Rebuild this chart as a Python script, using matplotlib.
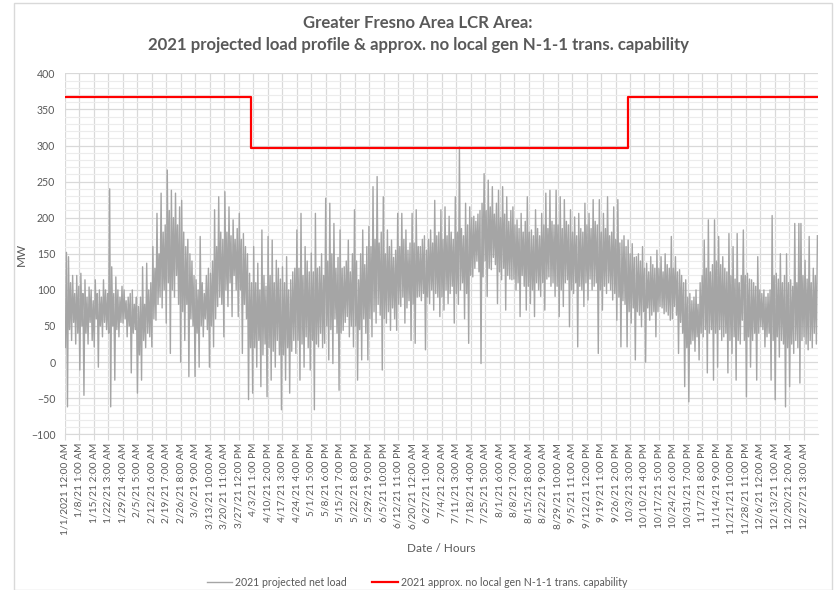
import numpy as np
import matplotlib
matplotlib.use("Agg")
import matplotlib.pyplot as plt
from matplotlib.patches import Rectangle

# ---------------- data ----------------
tick_labels = [
    "1/1/2021 12:00 AM", "1/8/21 1:00 AM", "1/15/21 2:00 AM", "1/22/21 3:00 AM",
    "1/29/21 4:00 AM", "2/5/21 5:00 AM", "2/12/21 6:00 AM", "2/19/21 7:00 AM",
    "2/26/21 8:00 AM", "3/6/21 9:00 AM", "3/13/21 10:00 AM", "3/20/21 11:00 AM",
    "3/27/21 12:00 PM", "4/3/21 1:00 PM", "4/10/21 2:00 PM", "4/17/21 3:00 PM",
    "4/24/21 4:00 PM", "5/1/21 5:00 PM", "5/8/21 6:00 PM", "5/15/21 7:00 PM",
    "5/22/21 8:00 PM", "5/29/21 9:00 PM", "6/5/21 10:00 PM", "6/12/21 11:00 PM",
    "6/20/21 12:00 AM", "6/27/21 1:00 AM", "7/4/21 2:00 AM", "7/11/21 3:00 AM",
    "7/18/21 4:00 AM", "7/25/21 5:00 AM", "8/1/21 6:00 AM", "8/8/21 7:00 AM",
    "8/15/21 8:00 AM", "8/22/21 9:00 AM", "8/29/21 10:00 AM", "9/5/21 11:00 AM",
    "9/12/21 12:00 PM", "9/19/21 1:00 PM", "9/26/21 2:00 PM", "10/3/21 3:00 PM",
    "10/10/21 4:00 PM", "10/17/21 5:00 PM", "10/24/21 6:00 PM", "10/31/21 7:00 PM",
    "11/7/21 8:00 PM", "11/14/21 9:00 PM", "11/21/21 10:00 PM", "11/28/21 11:00 PM",
    "12/6/21 12:00 AM", "12/13/21 1:00 AM", "12/20/21 2:00 AM", "12/27/21 3:00 AM",
]
hours_per_label = 169
total_hours = 8784

# projected net load: daily low (MW), one row per label interval (7 days)
daily_low = [
    20, -62, 45, 30, 55, 25, 40,
    -11, 50, -46, 40, 25, 55, 30,
    21, 60, -7, 50, 35, 55, 45,
    40, -62, 50, -25, 45, 35, 55,
    54, 60, 35, 50, -15, 40, 45,
    -43, 10, -25, 30, 20, 40, 35,
    21, 60, 58, 80, 90, 75, 100,
    54, 110, 12, 100, 90, 120, 80,
    0, 70, 30, 80, -20, 60, 50,
    -20, 40, -7, 50, 35, 60, 45,
    -7, 50, 21, 60, 77, 90, 80,
    35, 100, 77, 110, 63, 120, 100,
    63, 100, 12, 80, 60, -52, 20,
    -43, 20, -7, 30, -34, 10, 25,
    -48, 20, -25, 15, -7, 30, 10,
    -66, 10, -25, 20, -43, 15, 30,
    12, 30, -25, 25, -7, 35, 20,
    -11, 30, -66, 25, 21, 40, 20,
    26, 50, 3, 45, -2, 60, 40,
    -39, 40, 44, 55, 63, 35, 50,
    21, 50, -25, 45, 3, 60, 40,
    3, 60, 35, 70, 54, 80, 65,
    -11, 60, 54, 70, 44, 75, 60,
    44, 80, 77, 90, 54, 75, 85,
    30, 80, 26, 90, 91, 85, 95,
    17, 90, 81, 100, 72, 95, 90,
    63, 90, 72, 100, 81, 95, 105,
    54, 95, 80, 100, 110, 60, 95,
    26, 120, 118, 130, 140, 125, -2,
    118, 140, 91, 130, 128, 145, 135,
    81, 125, 114, 130, 72, 120, 115,
    114, 115, 100, 110, 63, 120, 105,
    72, 105, 81, 100, 63, 110, 100,
    91, 110, 72, 115, 118, 105, 110,
    91, 105, 63, 100, 77, 110, 114,
    49, 100, 95, 110, 21, 105, 100,
    77, 110, 86, 115, 100, 105, 110,
    12, 100, 72, 105, 95, 110, 100,
    86, 95, 58, 90, 21, 85, 80,
    21, 70, 54, 75, 3, 70, 65,
    49, 70, 0, 75, 58, 65, 70,
    35, 70, 77, 75, 67, 70, 65,
    58, 60, 77, 65, 12, 55, 40,
    -34, 20, -55, 25, 30, 15, 35,
    3, 40, 35, 45, -15, 40, 45,
    -25, 40, -7, 45, 30, 35, 40,
    -15, 30, 12, 35, -25, 30, 25,
    58, 30, -48, 35, -7, 30, 40,
    -25, 40, 49, 45, 21, 35, 40,
    -25, 30, -52, 35, 7, 30, 25,
    -62, 20, -34, 25, 12, 30, 20,
    -29, 30, 35, 25, 17, 30, 20,
    40, 25,
]
# projected net load: daily high (MW)
daily_high = [
    152, 146, 110, 120, 95, 120, 105,
    123, 95, 114, 90, 104, 100, 85,
    114, 95, 100, 90, 114, 100, 95,
    240, 132, 95, 118, 100, 90, 105,
    100, 85, 90, 95, 100, 80, 90,
    77, 90, 132, 80, 137, 100, 110,
    160, 130, 206, 150, 234, 180, 190,
    266, 210, 238, 200, 234, 190, 215,
    224, 180, 160, 170, 150, 140, 120,
    114, 100, 174, 110, 95, 120, 130,
    123, 140, 211, 160, 229, 180, 170,
    236, 180, 215, 175, 197, 170, 185,
    206, 170, 178, 160, 150, 123, 110,
    160, 110, 137, 100, 183, 120, 105,
    174, 120, 169, 110, 141, 130, 115,
    132, 110, 146, 100, 114, 125, 130,
    183, 130, 206, 120, 160, 140, 125,
    151, 125, 206, 130, 132, 150, 120,
    227, 140, 220, 150, 192, 130, 145,
    183, 130, 132, 140, 169, 125, 150,
    211, 140, 114, 150, 183, 135, 160,
    188, 160, 243, 170, 257, 165, 180,
    229, 150, 183, 160, 169, 145, 155,
    206, 160, 206, 170, 183, 155, 165,
    206, 165, 211, 160, 160, 170, 175,
    155, 170, 183, 165, 224, 175, 180,
    211, 170, 215, 175, 202, 180, 170,
    229, 180, 298, 185, 175, 220, 190,
    215, 200, 202, 195, 205, 210, 220,
    261, 210, 252, 215, 243, 205, 220,
    238, 200, 243, 205, 229, 195, 210,
    215, 190, 197, 185, 206, 180, 195,
    229, 180, 183, 175, 211, 185, 175,
    206, 190, 234, 185, 238, 195, 190,
    238, 190, 229, 185, 225, 195, 190,
    211, 180, 201, 175, 206, 185, 180,
    220, 190, 206, 185, 225, 195, 190,
    225, 180, 206, 185, 229, 175, 180,
    215, 170, 225, 165, 169, 175, 160,
    169, 150, 164, 145, 146, 150, 140,
    160, 130, 137, 125, 146, 135, 130,
    155, 130, 146, 125, 150, 135, 130,
    174, 130, 146, 125, 128, 120, 110,
    114, 90, 95, 85, 90, 100, 80,
    110, 120, 169, 130, 197, 125, 135,
    197, 140, 174, 135, 146, 130, 125,
    178, 120, 160, 115, 178, 110, 120,
    183, 120, 123, 115, 114, 110, 105,
    146, 100, 95, 100, 90, 95, 100,
    203, 120, 123, 115, 150, 110, 120,
    150, 110, 114, 105, 192, 110, 192,
    192, 120, 141, 115, 174, 110, 130,
    120, 175,
]

# approx. no local gen N-1-1 transmission capability (MW) and hour breakpoints
cap_levels = [367, 296, 367]
cap_breaks = [0, 2172, 6568, total_hours]

# ---------------- build line coordinates ----------------
n_days = len(daily_low)
day = np.arange(n_days)
x_load = np.empty(2 * n_days)
y_load = np.empty(2 * n_days)
x_load[0::2] = day * 24 + 5      # early-morning low
x_load[1::2] = day * 24 + 17     # evening high
y_load[0::2] = daily_low
y_load[1::2] = daily_high

x_cap = []
y_cap = []
for i, lvl in enumerate(cap_levels):
    x_cap += [cap_breaks[i], cap_breaks[i + 1]]
    y_cap += [lvl, lvl]

# ---------------- figure ----------------
plt.rcParams['font.family'] = ['Lato', 'DejaVu Sans']
txt = '#595959'
grid = '#d9d9d9'

fig = plt.figure(figsize=(8.36, 5.90), dpi=100)
fig.patches.append(Rectangle((14 / 836, 0), (832 - 14) / 836, 1 - 3 / 590,
                             transform=fig.transFigure, fill=False,
                             edgecolor=grid, linewidth=1.0))

ax = fig.add_axes([65 / 836, 1 - 434.3 / 590, (818 - 65) / 836, (434.3 - 73.3) / 590])

ax.plot(x_load, y_load, color='#a5a5a5', linewidth=1.0, zorder=3,
        label='2021 projected net load')
ax.plot(x_cap, y_cap, color='#ff0000', linewidth=1.6, zorder=4,
        label='2021 approx. no local gen N-1-1 trans. capability')

ax.set_xlim(0, total_hours)
ax.set_ylim(-100, 400)
ax.set_yticks(np.arange(-100, 401, 50))
ax.set_yticks(np.arange(-100, 401, 10), minor=True)
ax.set_xticks(np.arange(len(tick_labels)) * hours_per_label)
ax.set_xticklabels(tick_labels, rotation=90, fontsize=7.3, color=txt)
ax.tick_params(axis='y', which='major', labelsize=7.6, labelcolor=txt, length=0, pad=7)
ax.tick_params(axis='y', which='minor', length=0)
ax.tick_params(axis='x', which='major', length=4, color=grid, pad=2)

ax.grid(True, which='major', axis='both', color=grid, linewidth=0.9, zorder=0)
ax.grid(True, which='minor', axis='y', color='#ececec', linewidth=0.8, zorder=0)
ax.set_axisbelow(True)
for s in ax.spines.values():
    s.set_visible(False)
ax.spines['bottom'].set_visible(True)
ax.spines['bottom'].set_color(grid)

fig.text(21.5 / 836, 1 - 254 / 590, 'MW', rotation=90, ha='center', va='center',
         fontsize=8.5, color=txt)
fig.text(441.5 / 836, 1 - 548 / 590, 'Date / Hours', ha='center', va='center',
         fontsize=8.5, color=txt)

fig.text(0.5, 1 - 23 / 590, 'Greater Fresno Area LCR Area:', ha='center', va='center',
         fontsize=12.1, fontweight='bold', color=txt)
fig.text(0.5, 1 - 45 / 590,
         '2021 projected load profile & approx. no local gen N-1-1 trans. capability',
         ha='center', va='center', fontsize=12.1, fontweight='bold', color=txt)

leg = fig.legend(loc='center', bbox_to_anchor=(417 / 836, 1 - 582 / 590), ncol=2,
                 frameon=False, fontsize=7.6, handlelength=2.4, columnspacing=2.4,
                 handletextpad=0.3, labelcolor=txt)

fig.savefig('out.png', dpi=100)
